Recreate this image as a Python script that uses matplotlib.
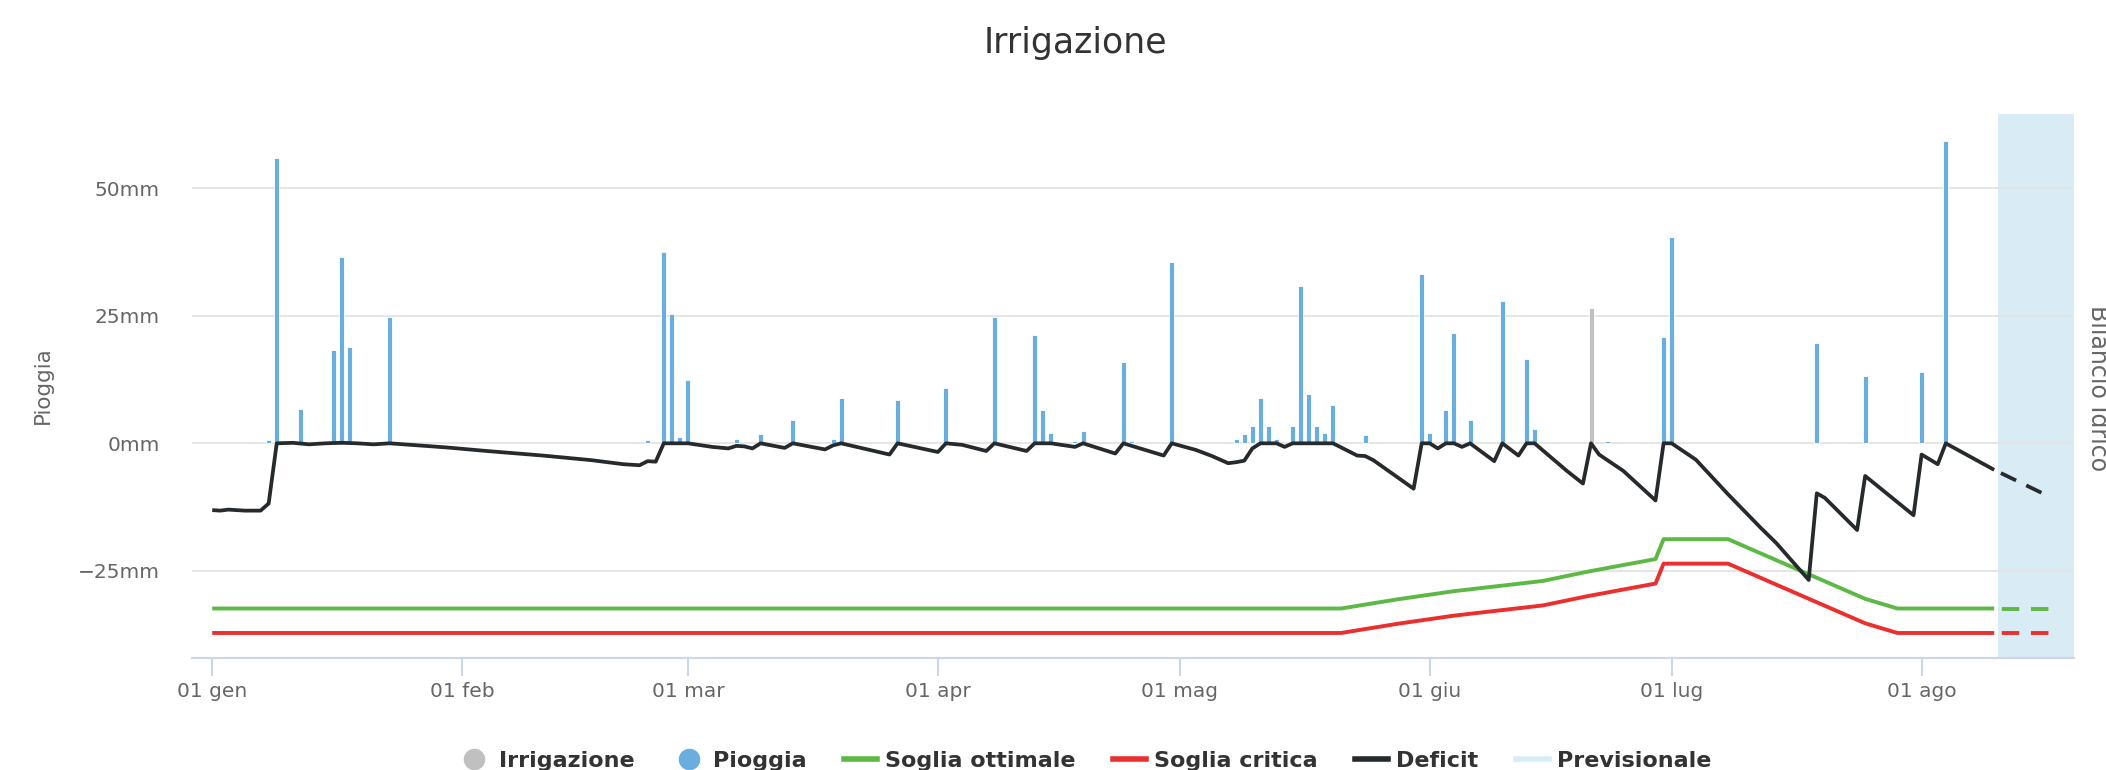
import matplotlib
matplotlib.use("Agg")
import matplotlib.pyplot as plt
from matplotlib.lines import Line2D

# giorni contati dall'1 gennaio (0 = 01 gen)
rain_days = [7, 8, 11, 15, 16, 17, 22, 54, 56, 57, 58, 59,
             65, 68, 72, 77, 78, 85, 91, 97, 102, 103, 104, 107, 108, 113, 114, 119,
             127, 128, 129, 130, 131, 132, 134, 135, 136, 137, 138, 139, 143,
             150, 151, 153, 154, 156, 160, 163, 164, 173, 180, 181,
             199, 205, 212, 215]
rain_mm = [0.7, 56.0, 6.8, 18.4, 36.5, 18.9, 24.8, 0.7, 37.6, 25.3, 1.3, 12.4,
           0.9, 1.8, 4.5, 0.9, 8.9, 8.4, 10.9, 24.8, 21.2, 6.5, 2.1, 0.5, 2.5, 16.0, 0.4, 35.6,
           0.9, 1.8, 3.3, 8.9, 3.3, 0.9, 3.3, 30.9, 9.7, 3.3, 2.1, 7.6, 1.6,
           33.3, 2.1, 6.5, 21.7, 4.5, 27.9, 16.5, 2.9, 0.4, 20.9, 40.5,
           19.6, 13.2, 14.0, 59.3]

irrig_days = [171]
irrig_mm = [26.5]

deficit_days = [0, 1, 2, 3, 4, 5, 6, 7, 8, 10, 12, 14, 16, 18, 20, 22,
                29, 34, 41, 47, 51, 53, 54, 55, 56, 59,
                62, 64, 65, 66, 67, 68, 71, 72, 76, 77, 78, 84, 85, 90, 91, 93,
                96, 97, 101, 102, 104, 107, 108, 112, 113, 118, 119,
                122, 124, 126, 127, 128, 129, 130, 132, 133, 134, 139,
                142, 143, 144, 149, 150, 151, 152, 153, 154, 155, 156, 159, 160,
                162, 163, 164, 168, 170, 171, 172, 175, 179, 180, 181,
                184, 188, 192, 194, 198, 199, 200, 204, 205, 211, 212, 214, 215, 221]
deficit_mm = [-13.1, -13.2, -13.0, -13.1, -13.2, -13.2, -13.2, -11.8, 0, 0.1, -0.2, 0, 0.1, 0, -0.2, 0,
              -0.8, -1.5, -2.4, -3.3, -4.1, -4.3, -3.5, -3.6, 0, 0,
              -0.7, -1.0, -0.5, -0.6, -1.0, 0, -0.9, 0, -1.2, -0.4, 0, -2.2, 0, -1.7, 0, -0.3,
              -1.5, 0, -1.5, 0, 0, -0.7, 0, -2.0, 0, -2.4, 0,
              -1.3, -2.5, -3.9, -3.7, -3.4, -1.0, 0, 0, -0.7, 0, 0,
              -2.4, -2.5, -3.3, -8.9, 0, 0, -1.0, 0, 0, -0.7, 0, -3.5, 0,
              -2.4, 0, 0, -5.4, -7.9, 0, -2.2, -5.4, -11.2, 0, 0,
              -3.2, -10.0, -16.5, -19.6, -26.8, -9.8, -10.7, -17.0, -6.4, -14.1, -2.2, -4.1, 0, -5.2]

deficit_fc_days = [221, 227]
deficit_fc_mm = [-5.2, -9.8]

thr_days = [0, 140, 147, 154, 165, 170.5, 179, 180, 188, 197, 205, 209, 221]
optimal_mm = [-32.4, -32.4, -30.6, -29.0, -27.0, -25.2, -22.7, -18.8, -18.8, -25.0, -30.5, -32.4, -32.4]
critical_mm = [-37.2, -37.2, -35.4, -33.8, -31.8, -30.0, -27.5, -23.6, -23.6, -29.8, -35.3, -37.2, -37.2]

thr_fc_days = [221, 228]
optimal_fc_mm = [-32.4, -32.4]
critical_fc_mm = [-37.2, -37.2]

forecast_span = [221.5, 231]

month_ticks = [0, 31, 59, 90, 120, 151, 181, 212]
month_labels = ['01 gen', '01 feb', '01 mar', '01 apr', '01 mag', '01 giu', '01 lug', '01 ago']
y_ticks = [-25, 0, 25, 50]

c_rain = '#6aaee0'
c_irrig = '#c0c0c0'
c_opt = '#5db845'
c_crit = '#eb2f2f'
c_def = '#262a2c'
c_fc = '#d9ecf6'

dash = (5.5, (4.5, 3))  # il tratteggio parte con uno spazio, come nel grafico originale

fig = plt.figure(figsize=(21.06, 7.7), dpi=100)
ax = fig.add_axes([0.0912, 0.1455, 0.8936, 0.7065])

ax.axvspan(forecast_span[0], forecast_span[1], color=c_fc, lw=0, zorder=0)

ax.bar(rain_days, rain_mm, width=0.62, color=c_rain, edgecolor='white', linewidth=0.6, zorder=2)
ax.bar(irrig_days, irrig_mm, width=0.62, color=c_irrig, edgecolor='white', linewidth=0.6, zorder=2)

ax.plot(thr_days, optimal_mm, color=c_opt, lw=2.8, zorder=3, solid_capstyle='butt')
ax.plot(thr_days, critical_mm, color=c_crit, lw=2.8, zorder=3, solid_capstyle='butt')
ax.plot(thr_fc_days, optimal_fc_mm, color=c_opt, lw=2.8, ls=dash, zorder=3)
ax.plot(thr_fc_days, critical_fc_mm, color=c_crit, lw=2.8, ls=dash, zorder=3)

ax.plot(deficit_days, deficit_mm, color=c_def, lw=2.7, zorder=4, solid_joinstyle='round',
        solid_capstyle='butt')
ax.plot(deficit_fc_days, deficit_fc_mm, color=c_def, lw=2.7, ls=dash, zorder=4)

ax.set_xlim(-2.5, 230.9)
ax.set_ylim(-42.1, 64.6)

ax.set_yticks(y_ticks)
ax.set_yticklabels([(str(v) + 'mm').replace('-', '\u2212') for v in y_ticks])
ax.set_xticks(month_ticks)
ax.set_xticklabels(month_labels)

ax.yaxis.grid(True, color='#e3e3e3', lw=1.3)
ax.set_axisbelow(True)
for side in ['top', 'right', 'left']:
    ax.spines[side].set_visible(False)
ax.spines['bottom'].set_color('#ccd6eb')
ax.spines['bottom'].set_linewidth(1.5)

ax.tick_params(axis='y', length=0, pad=23, labelsize=14.5, labelcolor='#666666')
ax.tick_params(axis='x', length=13, width=1.5, color='#ccd6eb', pad=4, labelsize=14.5, labelcolor='#666666')

fig.text(0.5107, 1 - 53.3 / 770, 'Irrigazione', ha='center', va='baseline', fontsize=25, color='#333333')
fig.text(49 / 2106, 1 - 385.5 / 770, 'Pioggia', rotation=90, rotation_mode='anchor',
         ha='center', va='baseline', fontsize=15.5, color='#666666')
fig.text(2091 / 2106, 1 - 388 / 770, 'Bilancio Idrico', rotation=270, rotation_mode='anchor',
         ha='center', va='baseline', fontsize=17, color='#666666')

handles = [
    Line2D([], [], ls='none', marker='o', markersize=14.5, color=c_irrig),
    Line2D([], [], ls='none', marker='o', markersize=14.5, color=c_rain),
    Line2D([], [], color=c_opt, lw=4),
    Line2D([], [], color=c_crit, lw=4),
    Line2D([], [], color=c_def, lw=4),
    Line2D([], [], color=c_fc, lw=4),
]
labels = ['Irrigazione', 'Pioggia', 'Soglia ottimale', 'Soglia critica', 'Deficit', 'Previsionale']
fig.legend(handles, labels, loc='center', bbox_to_anchor=(0.515, 0.0121), ncol=6, frameon=False,
           prop={'weight': 'bold', 'size': 16}, labelcolor='#333333',
           handlelength=1.5, handletextpad=0.36, columnspacing=1.67, borderpad=0)

fig.savefig('out.png', dpi=100)
